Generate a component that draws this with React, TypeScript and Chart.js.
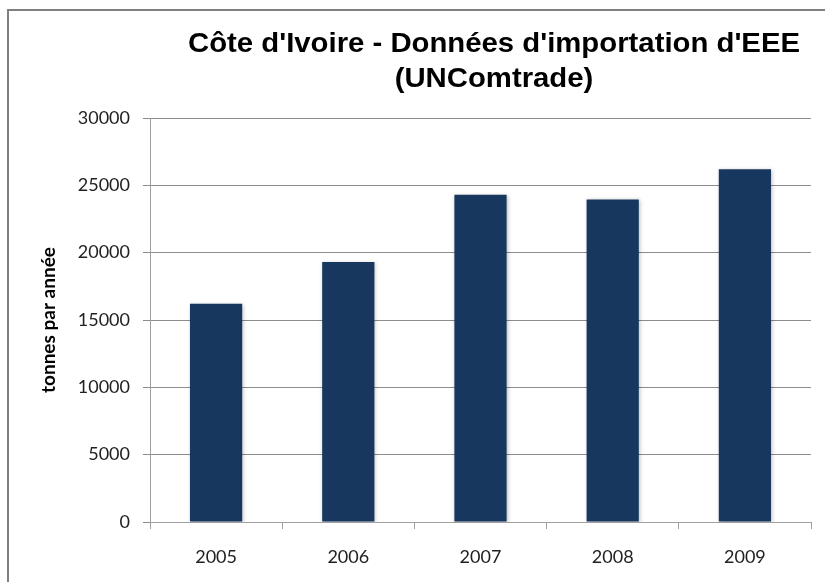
import React, { useEffect, useRef } from "react";
import { Chart, registerables } from "chart.js";

Chart.register(...registerables);

const titleLines = ["Côte d'Ivoire - Données d'importation d'EEE", "(UNComtrade)"];
const yAxisTitle = "tonnes par année";
const years = ["2005", "2006", "2007", "2008", "2009"];
const tonnes = [16200, 19300, 24300, 23950, 26200];
const yMin = 0;
const yMax = 30000;
const yStep = 5000;

const framePlugin = {
  id: "frameAndTitle",
  beforeDraw(chart: any) {
    const ctx = chart.ctx;
    ctx.save();
    ctx.fillStyle = "#ffffff";
    ctx.fillRect(0, 0, chart.width, chart.height);
    ctx.strokeStyle = "#7f7f7f";
    ctx.lineWidth = 2;
    ctx.beginPath();
    ctx.moveTo(8, chart.height);
    ctx.lineTo(8, 10);
    ctx.lineTo(chart.width, 10);
    ctx.stroke();
    ctx.restore();
  },
  afterDraw(chart: any) {
    const ctx = chart.ctx;
    ctx.save();
    ctx.fillStyle = "#000000";
    ctx.font = "bold 27px 'Liberation Sans', Arial, sans-serif";
    ctx.textAlign = "center";
    ctx.textBaseline = "middle";
    const w = ctx.measureText(titleLines[0]).width;
    const sx = 612 / w;
    ctx.translate(494, 0);
    ctx.scale(sx, 1);
    ctx.fillText(titleLines[0], 0, 45);
    ctx.fillText(titleLines[1], 0, 80);
    ctx.restore();
  },
};

const shadowPlugin = {
  id: "barShadow",
  beforeDatasetsDraw(chart: any) {
    const ctx = chart.ctx;
    ctx.save();
    ctx.shadowColor = "rgba(0,0,0,0.25)";
    ctx.shadowBlur = 4;
    ctx.shadowOffsetX = 1;
    ctx.shadowOffsetY = 1;
  },
  afterDatasetsDraw(chart: any) {
    chart.ctx.restore();
  },
};

export default function App() {
  const ref = useRef<HTMLCanvasElement | null>(null);
  useEffect(() => {
    if (!ref.current) return;
    const chart = new Chart(ref.current, {
      type: "bar",
      data: {
        labels: years,
        datasets: [
          {
            data: tonnes,
            backgroundColor: "#17375E",
            borderWidth: 0,
            barPercentage: 0.79,
            categoryPercentage: 0.5,
          },
        ],
      },
      options: {
        responsive: false,
        animation: false,
        devicePixelRatio: 1,
        layout: { padding: { left: 0, right: 14, top: 118, bottom: 0 } },
        plugins: {
          legend: { display: false },
          title: { display: false },
          tooltip: { enabled: false },
        },
        scales: {
          x: {
            grid: {
              offset: true,
              drawOnChartArea: false,
              drawTicks: true,
              tickLength: 7,
              color: "#a0a0a0",
            },
            border: { color: "#a0a0a0", width: 1 },
            ticks: {
              color: "#222222",
              font: { family: "Lato, 'Open Sans', sans-serif", size: 18 },
              padding: 17,
            },
            afterFit(scale: any) {
              scale.height = 60;
            },
          },
          y: {
            min: yMin,
            max: yMax,
            grid: {
              color: "#8c8c8c",
              drawTicks: true,
              tickLength: 7,
            },
            border: { color: "#a0a0a0", width: 1 },
            ticks: {
              stepSize: yStep,
              color: "#222222",
              font: { family: "Lato, 'Open Sans', sans-serif", size: 18 },
              padding: 13,
              callback: (v: any) => String(v),
            },
            title: {
              display: true,
              text: yAxisTitle,
              color: "#000000",
              font: { family: "Lato, 'Open Sans', sans-serif", size: 19, weight: "bold" },
              padding: { top: 37, bottom: 0 },
            },
            afterFit(scale: any) {
              scale.width = 150;
            },
          },
        },
      },
      plugins: [framePlugin, shadowPlugin],
    });
    return () => chart.destroy();
  }, []);
  return (
    <canvas
      ref={ref}
      width={825}
      height={582}
      style={{ position: "absolute", left: 0, top: 0, width: 825, height: 582 }}
    />
  );
}
